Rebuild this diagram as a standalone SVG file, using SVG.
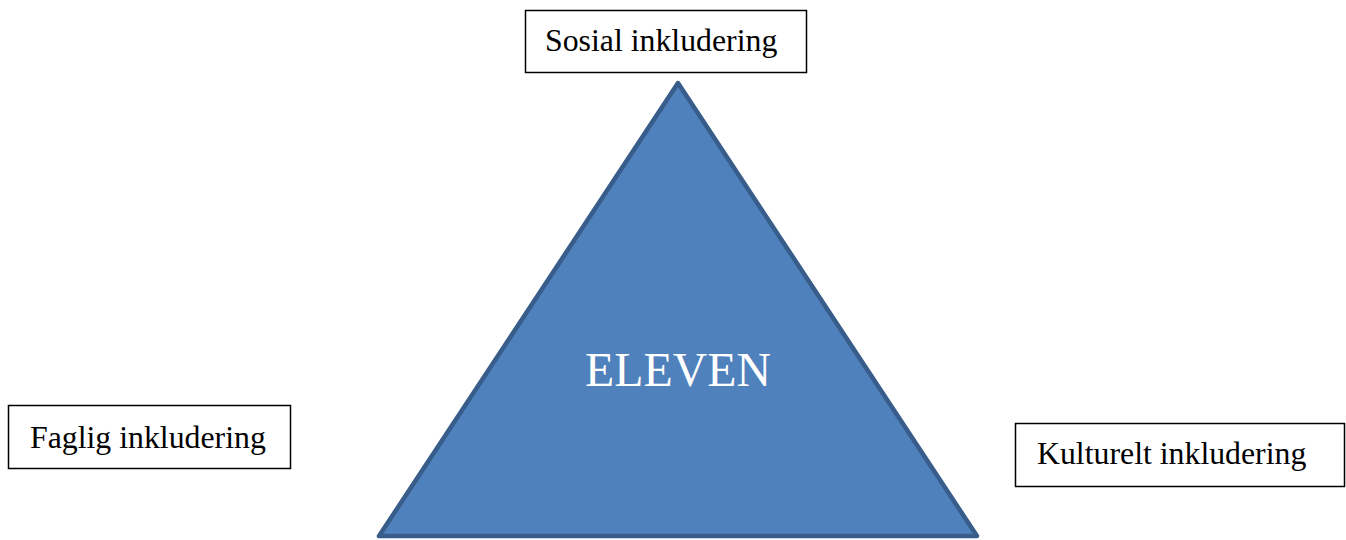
<svg xmlns="http://www.w3.org/2000/svg" width="1346" height="540" viewBox="0 0 1346 540">
<style>
.box{fill:#fff;stroke:#000;stroke-width:1.5}
.lbl{font-family:"Liberation Serif",serif;font-size:31.8px;fill:#000}
</style>
<rect width="1346" height="540" fill="#fff"/>
<g id="triangle">
<polygon points="678,83 379,536 977,536" fill="#4f81bd" stroke="#385d8a" stroke-width="4.5" stroke-linejoin="round"/>
<text x="678" y="386" text-anchor="middle" font-family="Liberation Serif,serif" font-size="47.8" fill="#fff">ELEVEN</text>
</g>
<g id="sosial">
<rect class="box" x="525.5" y="10.5" width="281" height="62"/>
<text class="lbl" x="545" y="51">Sosial inkludering</text>
</g>
<g id="faglig">
<rect class="box" x="8.5" y="405.5" width="282" height="63"/>
<text class="lbl" x="30" y="448">Faglig inkludering</text>
</g>
<g id="kulturelt">
<rect class="box" x="1015.5" y="423.5" width="329" height="63"/>
<text class="lbl" x="1037" y="464">Kulturelt inkludering</text>
</g>
<g id="connectors"></g>
</svg>
